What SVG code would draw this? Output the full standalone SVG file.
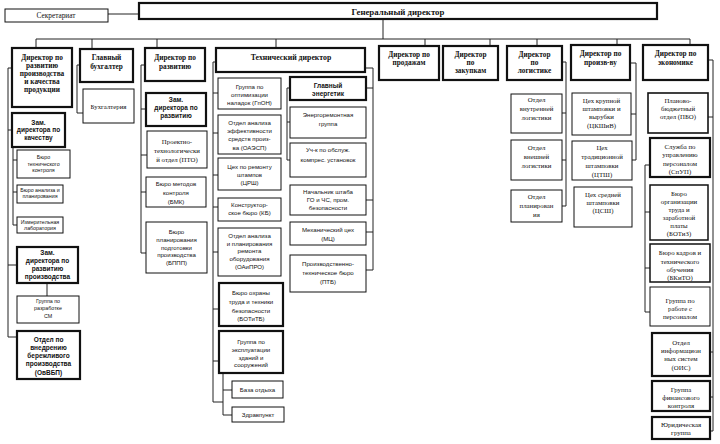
<svg xmlns="http://www.w3.org/2000/svg" width="720" height="444" viewBox="0 0 720 444">
<style>
rect{fill:#fff;stroke:#111;stroke-width:1}
rect.k{stroke-width:2.2}
#links path{fill:none;stroke:#222;stroke-width:1}
text{fill:#111;text-anchor:middle;font-family:"Liberation Serif","DejaVu Serif",serif;font-size:6.8px}
text.h{font-weight:bold;font-size:7.3px}
text.s{font-family:"Liberation Sans","DejaVu Sans",sans-serif;font-size:5.3px}
text.m{font-family:"Liberation Sans","DejaVu Sans",sans-serif;font-size:6.1px}
text.sb{font-family:"Liberation Sans","DejaVu Sans",sans-serif;font-size:6.5px;font-weight:bold}
</style>
<rect width="720" height="444" style="fill:#fff;stroke:none"/>
<g id="links">
<path d="M108 14H139M383 19V39M36 39H690M36 39V48M92 39V49M157 39V48M276 39V48M425 39V46M490 39V46M537 39V46M617 39V45M690 39V45"/>
<path d="M12 68H8V337H17M8 130H12M8 265H17M13 147V225M13 160H17M13 192H17M13 225H17M47 283V296"/>
<path d="M80 65H77V113H83"/>
<path d="M145 65H141V253H146M141 109H146M141 155H147M141 192H146"/>
<path d="M216 62H213V402H223M213 93H218M213 133H218M213 175H218M213 207H218M213 252H218M213 309H219M213 361H219M223 373V415H232M223 390H232"/>
<path d="M290 88H287V160H290M287 122H290M365 68H373V270H366M366 88H373M366 200H373M366 232H373"/>
<path d="M562 62H566V206H562M562 113H566M562 160H566"/>
<path d="M630 63H636V160H632M631 114H636"/>
<path d="M708 60H713V431H710M708 117H713M710 352H713M710 397H713M650 165H645V312H650M645 212H650M645 268H650"/>
</g>
<g id="gd"><rect class="k" x="139" y="3" width="518" height="16"/><text class="h" x="398" y="14.5" style="font-size:8.8px">Генеральный директор</text></g>
<g id="secr"><rect x="5" y="9" width="103" height="13"/><text x="56" y="18" style="font-size:7.3px">Секретариат</text></g>

<g id="d1"><rect class="k" x="12" y="48" width="60" height="59"/><text class="h" x="42"><tspan x="42" y="60">Директор по</tspan><tspan x="42" y="68">развитию</tspan><tspan x="42" y="76">производства</tspan><tspan x="42" y="84">и качества</tspan><tspan x="42" y="92">продукции</tspan></text></g>
<g id="d1a"><rect class="k" x="12" y="113" width="53" height="34"/><text class="sb" x="38.5"><tspan x="38.5" y="124.5">Зам.</tspan><tspan x="38.5" y="132">директора по</tspan><tspan x="38.5" y="139.5">качеству</tspan></text></g>
<g id="d1a1"><rect x="17" y="150" width="53" height="28"/><text class="s"><tspan x="43.5" y="159">Бюро</tspan><tspan x="43.5" y="166">технического</tspan><tspan x="43.5" y="172">контроля</tspan></text></g>
<g id="d1a2"><rect x="17" y="185" width="46" height="18"/><text class="s"><tspan x="40" y="191.5">Бюро анализа и</tspan><tspan x="40" y="197.5">планирования</tspan></text></g>
<g id="d1a3"><rect x="17" y="217" width="46" height="16"/><text class="s"><tspan x="40" y="223.5">Измерительная</tspan><tspan x="40" y="230">лаборатория</tspan></text></g>
<g id="d1b"><rect class="k" x="17" y="247" width="61" height="36"/><text class="sb"><tspan x="47.5" y="254.5">Зам.</tspan><tspan x="47.5" y="263">директора по</tspan><tspan x="47.5" y="271">развитию</tspan><tspan x="47.5" y="279">производства</tspan></text></g>
<g id="d1b1"><rect x="17" y="296" width="62" height="27"/><text class="s"><tspan x="48" y="302.5">Группа по</tspan><tspan x="48" y="310">разработке</tspan><tspan x="48" y="318">СМ</tspan></text></g>
<g id="d1c"><rect class="k" x="17" y="331" width="63" height="48"/><text class="sb"><tspan x="48.5" y="341.5">Отдел по</tspan><tspan x="48.5" y="349.5">внедрению</tspan><tspan x="48.5" y="358">бережливого</tspan><tspan x="48.5" y="366">производства</tspan><tspan x="48.5" y="374.5">(ОвВБП)</tspan></text></g>

<g id="d2"><rect class="k" x="80" y="49" width="53" height="33"/><text class="h"><tspan x="106.5" y="60">Главный</tspan><tspan x="106.5" y="69">бухгалтер</tspan></text></g>
<g id="d2a"><rect x="83" y="89" width="51" height="34"/><text x="108.5" y="109">Бухгалтерия</text></g>

<g id="d3"><rect class="k" x="145" y="48" width="60" height="33"/><text class="h"><tspan x="175" y="60">Директор по</tspan><tspan x="175" y="69">развитию</tspan></text></g>
<g id="d3a"><rect class="k" x="146" y="93" width="60" height="33"/><text class="sb"><tspan x="176" y="102">Зам.</tspan><tspan x="176" y="110">директора по</tspan><tspan x="176" y="118">развитию</tspan></text></g>
<g id="d3b"><rect x="147" y="131" width="60" height="37"/><text><tspan x="177" y="144">Проектно-</tspan><tspan x="177" y="152.5">технологически</tspan><tspan x="177" y="161.5">й отдел (ПТО)</tspan></text></g>
<g id="d3c"><rect x="146" y="177" width="60" height="30"/><text class="m"><tspan x="176" y="186">Бюро методов</tspan><tspan x="176" y="195">контроля</tspan><tspan x="176" y="203.5">(БМК)</tspan></text></g>
<g id="d3d"><rect x="146" y="222" width="61" height="51"/><text class="m"><tspan x="176.5" y="234">Бюро</tspan><tspan x="176.5" y="242">планирования</tspan><tspan x="176.5" y="249.5">подготовки</tspan><tspan x="176.5" y="257">производства</tspan><tspan x="176.5" y="264.5">(БППП)</tspan></text></g>

<g id="d4"><rect class="k" x="216" y="48" width="149" height="24"/><text class="h" x="291" y="60" style="font-size:7.8px">Технический директор</text></g>
<g id="t1"><rect x="218" y="78" width="63" height="31"/><text class="m"><tspan x="249.5" y="89">Группа по</tspan><tspan x="249.5" y="97">оптимизации</tspan><tspan x="249.5" y="105">наладок (ГпОН)</tspan></text></g>
<g id="t2"><rect x="218" y="115" width="63" height="39"/><text class="m"><tspan x="249.5" y="125">Отдел анализа</tspan><tspan x="249.5" y="133">эффективности</tspan><tspan x="249.5" y="141">средств произ-</tspan><tspan x="249.5" y="150">ва (ОАЭСП)</tspan></text></g>
<g id="t3"><rect x="218" y="158" width="63" height="32"/><text class="m"><tspan x="249.5" y="169">Цех по ремонту</tspan><tspan x="249.5" y="177">штампов</tspan><tspan x="249.5" y="184.5">(ЦРШ)</tspan></text></g>
<g id="t4"><rect x="218" y="198" width="63" height="23"/><text class="m"><tspan x="249.5" y="207">Конструктор-</tspan><tspan x="249.5" y="215">ское бюро (КБ)</tspan></text></g>
<g id="t5"><rect x="218" y="228" width="63" height="48"/><text class="m"><tspan x="249.5" y="238">Отдел анализа</tspan><tspan x="249.5" y="245.5">и планирования</tspan><tspan x="249.5" y="253">ремонта</tspan><tspan x="249.5" y="261">оборудования</tspan><tspan x="249.5" y="269">(ОАиПРО)</tspan></text></g>
<g id="t6"><rect class="k" x="219" y="283" width="64" height="43"/><text class="m"><tspan x="251" y="295">Бюро охраны</tspan><tspan x="251" y="304">труда и техники</tspan><tspan x="251" y="313">безопасности</tspan><tspan x="251" y="321">(БОТиТБ)</tspan></text></g>
<g id="t7"><rect class="k" x="219" y="331" width="64" height="42"/><text class="m"><tspan x="251" y="343.5">Группа по</tspan><tspan x="251" y="351.5">эксплуатации</tspan><tspan x="251" y="359.5">зданий и</tspan><tspan x="251" y="367">сооружений</tspan></text></g>
<g id="t7a"><rect x="232" y="381" width="51" height="17"/><text class="m" x="257.5" y="392">База отдыха</text></g>
<g id="t7b"><rect x="232" y="407" width="52" height="15"/><text class="m" x="258" y="417">Здравпункт</text></g>
<g id="e1"><rect class="k" x="290" y="77" width="76" height="23"/><text class="sb"><tspan x="328" y="87.5">Главный</tspan><tspan x="328" y="96">энергетик</tspan></text></g>
<g id="e2"><rect x="290" y="107" width="76" height="31"/><text class="m"><tspan x="328" y="117">Энергоремонтная</tspan><tspan x="328" y="125.5">группа</tspan></text></g>
<g id="e3"><rect x="290" y="143" width="76" height="34"/><text class="m"><tspan x="328" y="152">Уч-к по обслуж.</tspan><tspan x="328" y="162">компрес. установок</tspan></text></g>
<g id="e4"><rect x="290" y="185" width="76" height="30"/><text class="m"><tspan x="328" y="194">Начальник штаба</tspan><tspan x="328" y="201.5">ГО и ЧС, пром.</tspan><tspan x="328" y="210">безопасности</tspan></text></g>
<g id="e5"><rect x="290" y="222" width="76" height="23"/><text class="m"><tspan x="328" y="232">Механический цех</tspan><tspan x="328" y="241">(МЦ)</tspan></text></g>
<g id="e6"><rect x="290" y="255" width="76" height="37"/><text class="m"><tspan x="328" y="266">Производственно-</tspan><tspan x="328" y="275">техническое бюро</tspan><tspan x="328" y="284">(ПТБ)</tspan></text></g>

<g id="d5"><rect class="k" x="379" y="46" width="60" height="34"/><text class="h"><tspan x="409" y="56.5">Директор по</tspan><tspan x="409" y="64.5">продажам</tspan></text></g>
<g id="d6"><rect class="k" x="443" y="46" width="55" height="34"/><text class="h"><tspan x="470.5" y="56.5">Директор</tspan><tspan x="470.5" y="64.5">по</tspan><tspan x="470.5" y="73">закупкам</tspan></text></g>
<g id="d7"><rect class="k" x="507" y="46" width="55" height="34"/><text class="h"><tspan x="534.5" y="56.5">Директор</tspan><tspan x="534.5" y="64.5">по</tspan><tspan x="534.5" y="73">логистике</tspan></text></g>
<g id="l1"><rect x="511" y="94" width="51" height="39"/><text><tspan x="536.5" y="102">Отдел</tspan><tspan x="536.5" y="111">внутренней</tspan><tspan x="536.5" y="119.5">логистики</tspan></text></g>
<g id="l2"><rect x="511" y="140" width="51" height="40"/><text><tspan x="536.5" y="149.5">Отдел</tspan><tspan x="536.5" y="159">внешней</tspan><tspan x="536.5" y="167.5">логистики</tspan></text></g>
<g id="l3"><rect x="511" y="190" width="51" height="32"/><text><tspan x="536.5" y="199">Отдел</tspan><tspan x="536.5" y="208">планирован</tspan><tspan x="536.5" y="217">ия</tspan></text></g>

<g id="d8"><rect class="k" x="571" y="45" width="59" height="35"/><text class="h"><tspan x="600.5" y="56">Директор по</tspan><tspan x="600.5" y="64.5">произв-ву</tspan></text></g>
<g id="p1"><rect x="572" y="93" width="59" height="42"/><text><tspan x="601.5" y="102.5">Цех крупной</tspan><tspan x="601.5" y="110.5">штамповки и</tspan><tspan x="601.5" y="119">вырубки</tspan><tspan x="601.5" y="127.5">(ЦКШиВ)</tspan></text></g>
<g id="p2"><rect x="572" y="141" width="60" height="39"/><text><tspan x="602" y="150">Цех</tspan><tspan x="602" y="159">традиционной</tspan><tspan x="602" y="168">штамповки</tspan><tspan x="602" y="176.5">(ЦТШ)</tspan></text></g>
<g id="p3"><rect x="574" y="187" width="58" height="40"/><text><tspan x="603" y="196.5">Цех средней</tspan><tspan x="603" y="204.5">штамповки</tspan><tspan x="603" y="212.5">(ЦСШ)</tspan></text></g>

<g id="d9"><rect class="k" x="643" y="45" width="65" height="35"/><text class="h"><tspan x="675.5" y="56">Директор по</tspan><tspan x="675.5" y="64.5">экономике</tspan></text></g>
<g id="f1"><rect class="k" x="648" y="93" width="60" height="40" style="stroke-width:1.6"/><text><tspan x="678" y="102.5">Планово-</tspan><tspan x="678" y="110.5">бюджетный</tspan><tspan x="678" y="119">отдел (ПБО)</tspan></text></g>
<g id="f2"><rect class="k" x="650" y="138" width="60" height="39"/><text><tspan x="680" y="148.5">Служба по</tspan><tspan x="680" y="157">управлению</tspan><tspan x="680" y="165.5">персоналом</tspan><tspan x="680" y="174">(СпУП)</tspan></text></g>
<g id="f3"><rect x="650" y="185" width="58" height="55" style="stroke-width:1.5"/><text><tspan x="679" y="196">Бюро</tspan><tspan x="679" y="204">организации</tspan><tspan x="679" y="212">труда и</tspan><tspan x="679" y="220">заработной</tspan><tspan x="679" y="228">платы</tspan><tspan x="679" y="236">(БОТиЗ)</tspan></text></g>
<g id="f4"><rect x="650" y="244" width="60" height="38" style="stroke-width:1.5"/><text><tspan x="680" y="254.5">Бюро кадров и</tspan><tspan x="680" y="264">технического</tspan><tspan x="680" y="272">обучения</tspan><tspan x="680" y="280">(БКиТО)</tspan></text></g>
<g id="f5"><rect x="650" y="287" width="60" height="39"/><text><tspan x="680" y="303">Группа по</tspan><tspan x="680" y="310.5">работе с</tspan><tspan x="680" y="319">персоналом</tspan></text></g>
<g id="f6"><rect class="k" x="652" y="333" width="58" height="43"/><text><tspan x="681" y="344.5">Отдел</tspan><tspan x="681" y="353">информацион</tspan><tspan x="681" y="361">ных систем</tspan><tspan x="681" y="369.5">(ОИС)</tspan></text></g>
<g id="f7"><rect class="k" x="652" y="381" width="58" height="30"/><text><tspan x="681" y="391.5">Группа</tspan><tspan x="681" y="399.5">финансового</tspan><tspan x="681" y="408">контроля</tspan></text></g>
<g id="f8"><rect class="k" x="652" y="417" width="58" height="22"/><text><tspan x="681" y="426.5">Юридическая</tspan><tspan x="681" y="434.5">группа</tspan></text></g>
</svg>
